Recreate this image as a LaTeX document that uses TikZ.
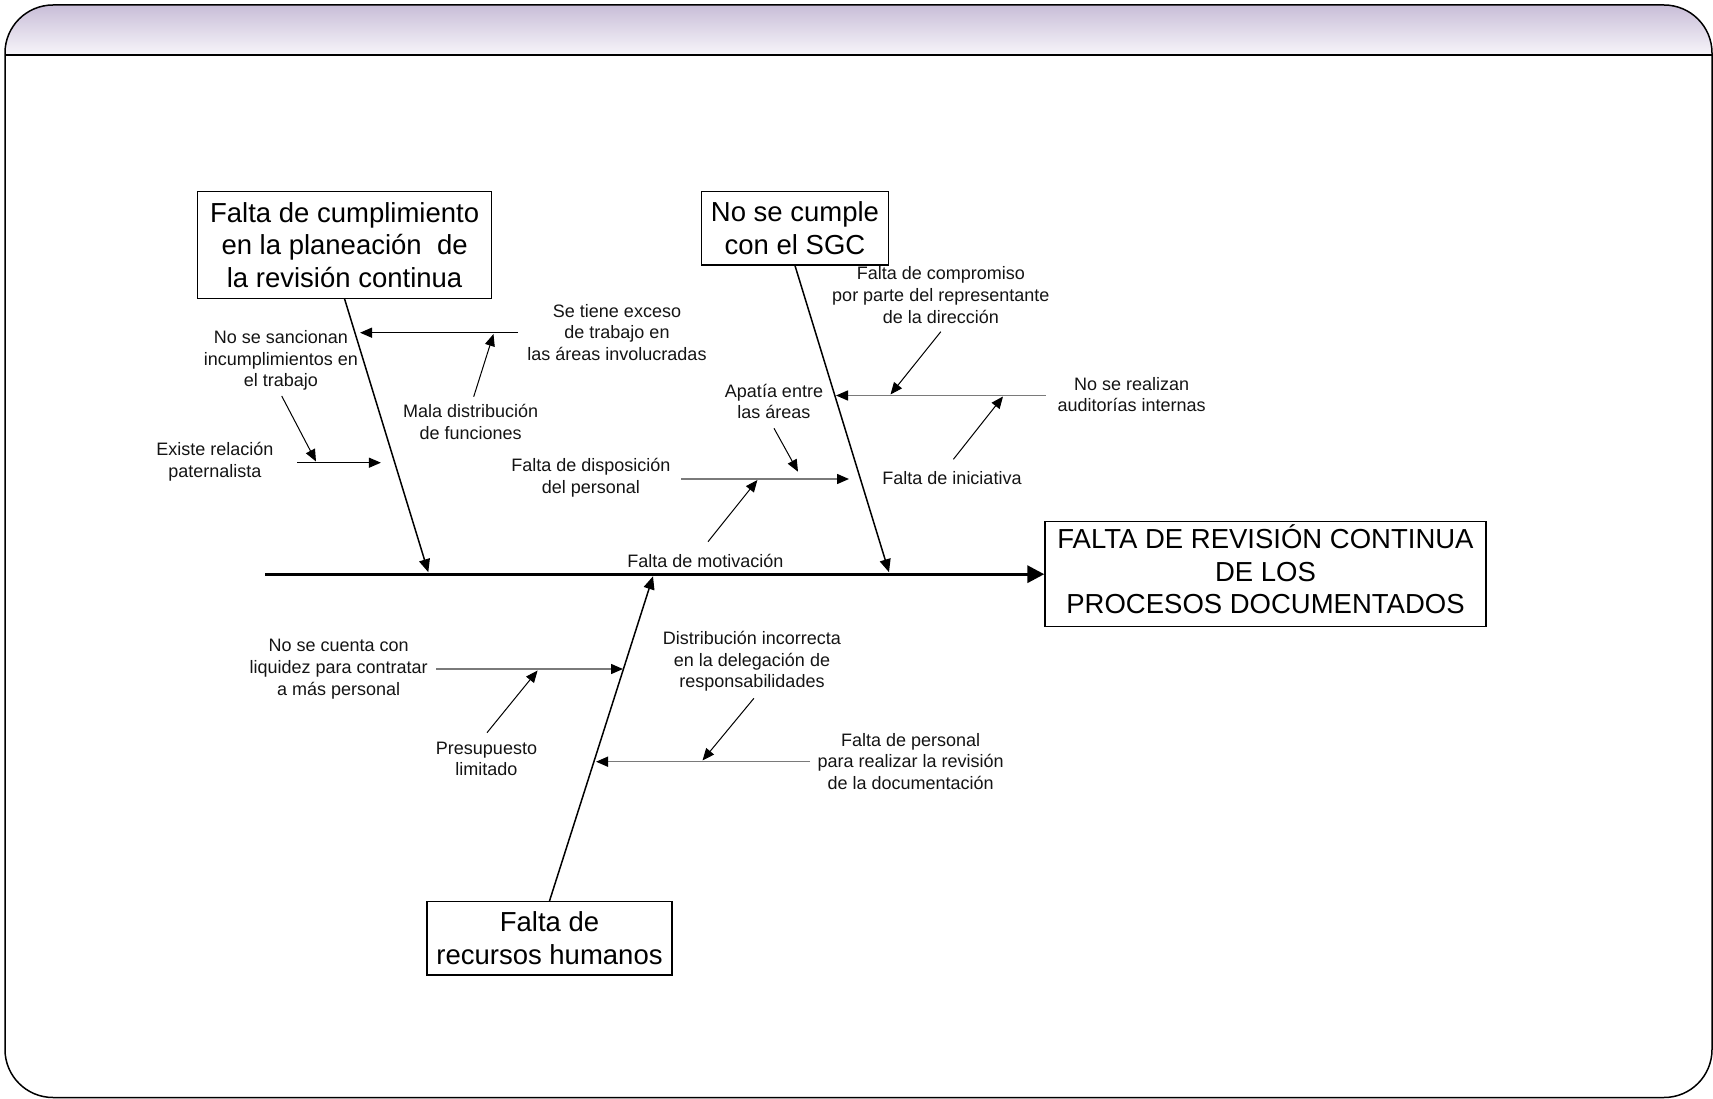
\documentclass[tikz,border=0pt]{standalone}
\usepackage{fontspec}
\setmainfont{Liberation Sans}
\usetikzlibrary{arrows.meta}
\definecolor{headtop}{HTML}{C4B8D4}
\definecolor{headbot}{HTML}{F7F5FA}
\definecolor{twiggray}{HTML}{7A7A7A}
\begin{document}
\begin{tikzpicture}[x=1pt,y=-1pt,
  lbl/.style={align=center,inner sep=0pt,text=black!92,font=\fontsize{18}{21.7}\selectfont},
  causebox/.style={draw,line width=1.4pt,align=center,inner sep=0pt,font=\fontsize{27.5}{32.3}\selectfont},
  spine/.style={line width=3.4pt,-{Triangle[length=17pt,width=17pt]}},
  bone/.style={line width=1.5pt,-{Triangle[length=13pt,width=11pt]}},
  sub/.style={line width=1.3pt,-{Triangle[length=12pt,width=10pt]}},
  subgray/.style={line width=1.5pt,draw=twiggray,-{Triangle[length=12pt,width=10pt,color=black,fill=black]}},
  twig/.style={line width=1pt,-{Triangle[length=12pt,width=10pt]}},
]
\useasboundingbox (0,0) rectangle (1713,1099);

% slide frame with shaded title band
\begin{scope}
  \clip[rounded corners=48pt] (5,5) rectangle (1712,1097.5);
  \shade[top color=headtop,bottom color=headbot] (0,0) rectangle (1713,55);
\end{scope}
\draw[line width=1.5pt,rounded corners=48pt] (5,5) rectangle (1712,1097.5);
\draw[line width=2pt] (5,55) -- (1712,55);

% main causes and effect
\node[causebox,minimum width=294pt,minimum height=106.6pt] (c1) at (344.6,245)
  {Falta de cumplimiento\\en la planeación~ de\\la revisión continua};
\node[causebox,minimum width=187pt,minimum height=73.3pt] (c2) at (795,228.3)
  {No se cumple\\con el SGC};
\node[causebox,minimum width=245pt,minimum height=73.3pt] (c3) at (549.5,938.3)
  {Falta de\\recursos humanos};
\node[causebox,minimum width=441pt,minimum height=105pt] (eff) at (1265.5,574.2)
  {\raisebox{3.5pt}{\begin{tabular}{@{}c@{}}FALTA DE REVISIÓN CONTINUA\\DE LOS\\ PROCESOS DOCUMENTADOS\end{tabular}}};

% spine and bones
\coordinate (tail) at (265.4,574.2);
\coordinate (k1) at (428.3,572.2);
\coordinate (k2) at (889,572.2);
\coordinate (k3) at (653,576.3);
\draw[spine] (tail) -- (eff.west);
\draw[bone] (c1.south) -- (k1);
\draw[bone] (c2.south) -- (k2);
\draw[bone] (c3.north) -- (k3);

% --- first bone
\node[lbl] (l1) at (617,332.3) {Se tiene exceso\\de trabajo en\\las áreas involucradas};
\coordinate (a1s) at (518,332.7);  \coordinate (a1e) at (360,332.7);
\draw[sub] (a1s) -- (a1e);
\node[lbl] (l2) at (470.6,421.7) {Mala distribución\\de funciones};
\coordinate (a2s) at (473.7,396.7); \coordinate (a2e) at (493.5,334);
\draw[twig] (a2s) -- (a2e);
\node[lbl] (l3) at (281,360.5) {No se sancionan\\incumplimientos en\\el trabajo};
\coordinate (a3s) at (281.7,396); \coordinate (a3e) at (316,461.5);
\draw[twig] (a3s) -- (a3e);
\node[lbl] (l4) at (214.9,461.7) {Existe relación\\paternalista};
\coordinate (a4s) at (297,462.7); \coordinate (a4e) at (380.9,462.7);
\draw[sub] (a4s) -- (a4e);

% --- second bone
\node[lbl] (l5) at (1131.7,394.5) {No se realizan\\auditorías internas};
\coordinate (a5s) at (1045.5,395.5); \coordinate (a5e) at (836,395.5);
\draw[subgray] (a5s) -- (a5e);
\node[lbl] (l6) at (940.8,295) {Falta de compromiso\\por parte del representante\\de la dirección};
\coordinate (a6s) at (940.8,331.7); \coordinate (a6e) at (890.5,394.5);
\draw[twig] (a6s) -- (a6e);
\node[lbl] (l7) at (952,478.5) {Falta de iniciativa};
\coordinate (a7s) at (953.4,459.3); \coordinate (a7e) at (1003,396.5);
\draw[twig] (a7s) -- (a7e);
\node[lbl] (l8) at (774,401.5) {Apatía entre\\las áreas};
\coordinate (a8s) at (774,428.3); \coordinate (a8e) at (798,471.7);
\draw[twig] (a8s) -- (a8e);
\node[lbl] (l9) at (590.8,477.8) {Falta de disposición\\del personal};
\coordinate (a9s) at (681,479); \coordinate (a9e) at (849,479);
\draw[subgray] (a9s) -- (a9e);
\node[lbl] (l10) at (705.3,561) {Falta de motivación};
\coordinate (a10s) at (708,541.7); \coordinate (a10e) at (757.4,480);
\draw[twig] (a10s) -- (a10e);

% --- third bone
\node[lbl] (l11) at (338.7,669) {No se cuenta con\\liquidez para contratar\\a más personal};
\coordinate (a11s) at (436.4,669); \coordinate (a11e) at (623,669);
\draw[subgray] (a11s) -- (a11e);
\node[lbl] (l12) at (486.5,759) {Presupuesto\\limitado};
\coordinate (a12s) at (487,732.7); \coordinate (a12e) at (537.6,670.5);
\draw[twig] (a12s) -- (a12e);
\node[lbl] (l13) at (752,661.5) {Distribución incorrecta\\en la delegación de\\responsabilidades};
\coordinate (a13s) at (753.9,698.3); \coordinate (a13e) at (702.5,760.5);
\draw[twig] (a13s) -- (a13e);
\node[lbl] (l14) at (910.7,761.5) {Falta de personal\\para realizar la revisión\\de la documentación};
\coordinate (a14s) at (810,761.7); \coordinate (a14e) at (596,761.7);
\draw[subgray] (a14s) -- (a14e);
\end{tikzpicture}
\end{document}
